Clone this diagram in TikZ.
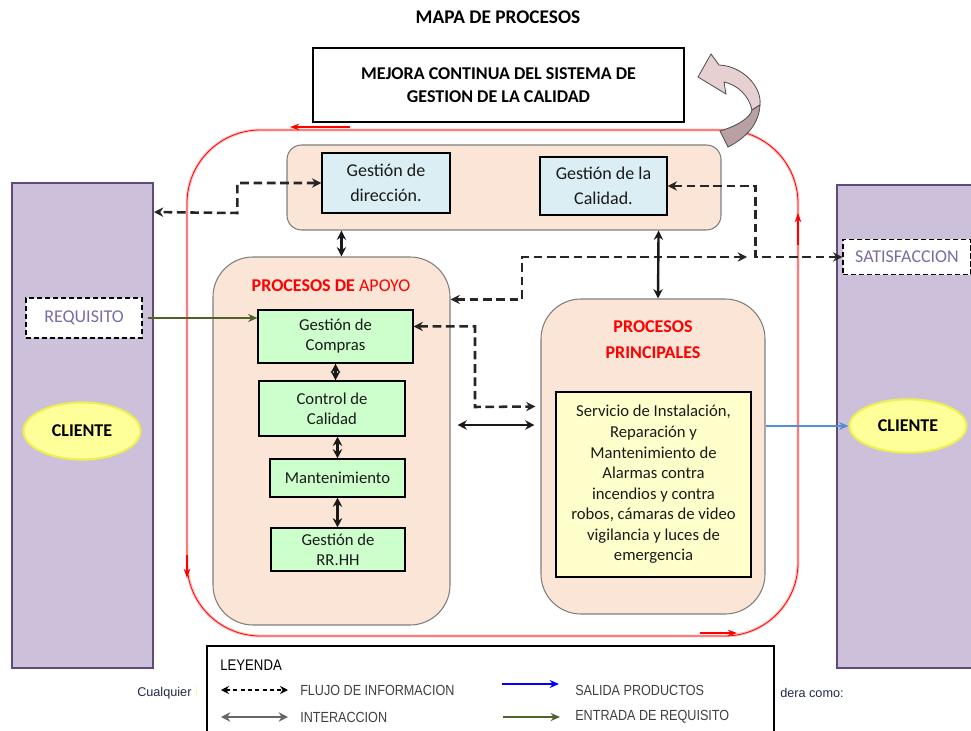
\documentclass[tikz,border=0pt]{standalone}
\usepackage{fontspec}
\setmainfont{Carlito}
\newfontfamily\narrowfont[FakeStretch=0.86]{Liberation Sans}
\newfontfamily\arialfont{Liberation Sans}
\usepackage{xcolor}
\usepackage{tikz}
\usetikzlibrary{positioning, arrows.meta, calc, shapes.geometric}
\definecolor{pPeach}{HTML}{FBE5D6}
\definecolor{pBorder}{HTML}{7F7F7F}
\definecolor{pBlue}{HTML}{DAEEF3}
\definecolor{pGreen}{HTML}{CCFFCC}
\definecolor{pYellow}{HTML}{FFFFCC}
\definecolor{cPurple}{HTML}{CCC0DA}
\definecolor{cPurpleLine}{HTML}{604A7B}
\definecolor{cEllipse}{HTML}{FFFF99}
\definecolor{cGlow}{HTML}{EEEE55}
\definecolor{cTag}{HTML}{7C6BA5}
\definecolor{aReq}{HTML}{4F6228}
\definecolor{aOut}{HTML}{558ED5}
\definecolor{aBlue}{HTML}{0000FF}
\definecolor{loopPink}{HTML}{FFC0C0}
\definecolor{mLight}{HTML}{E6D0D2}
\definecolor{mDark}{HTML}{B8A0A3}
\definecolor{nInk}{HTML}{1A1A1A}
\definecolor{nLeg}{HTML}{404040}
\definecolor{nNote}{HTML}{1F2A48}
\tikzset{
  container/.style={draw=pBorder, fill=pPeach, line width=0.8pt, inner sep=0pt},
  mejorabox/.style={draw=black, line width=0.9pt, minimum width=278.25pt, minimum height=55.5pt,
    align=center, font=\fontsize{13.5}{17.25}\selectfont\bfseries},
  bluebox/.style={draw=black, fill=pBlue, line width=1pt, inner sep=0pt, align=center,
    text=nInk, font=\fontsize{13.5}{19}\selectfont},
  greenbox/.style={draw=black, fill=pGreen, line width=0.8pt, inner sep=0pt, align=center,
    text=nInk, font=\fontsize{12.5}{15}\selectfont},
  yellowbox/.style={draw=black, fill=pYellow, line width=1pt, inner sep=0pt, align=center,
    text=nInk, font=\fontsize{12.5}{15.4}\selectfont},
  proctitle/.style={text=red, align=center, font=\fontsize{13.5}{19.5}\selectfont\bfseries},
  clientbar/.style={draw=cPurpleLine, fill=cPurple, line width=1.4pt, inner sep=0pt},
  cliente/.style={ellipse, draw=cGlow, fill=cEllipse, line width=1.6pt, inner sep=0pt,
    font=\fontsize{13.5}{16}\selectfont\bfseries},
  tagbox/.style={draw=black, dash pattern=on 4pt off 2pt, fill=white, line width=0.9pt,
    inner sep=0pt, text=cTag, font=\fontsize{13.5}{16}\selectfont},
  flujo/.style={{Stealth[length=7pt,width=7pt]}-{Stealth[length=7pt,width=7pt]},
    dash pattern=on 6.5pt off 3.5pt, line width=1.9pt, black!85},
  interaccion/.style={{Stealth[length=7pt,width=7pt]}-{Stealth[length=7pt,width=7pt]}, line width=1.8pt, black!90},
  entrada/.style={-{Stealth[length=7pt,width=6pt]}, aReq, line width=1.6pt},
  salida/.style={-{Stealth[length=7pt,width=6pt]}, aOut, line width=1.6pt},
  redloop/.style={draw=red, line width=0.6pt, rounded corners=55pt,
    preaction={draw=loopPink, line width=2.2pt}},
  looparrow/.style={-{Stealth[length=7pt,width=5pt]}, red, line width=0.9pt},
  legtext/.style={text=nLeg, font=\narrowfont\fontsize{11}{13}\selectfont, inner sep=0pt},
  notetext/.style={text=nNote, font=\arialfont\fontsize{9.5}{11}\selectfont, inner sep=0pt},
}
\begin{document}
\begin{tikzpicture}[x=0.75pt, y=-0.75pt, >=Stealth]
\useasboundingbox (0,0) rectangle (971,731);
\node[font=\fontsize{14.5}{17}\selectfont\bfseries] (titulo) at (498,17) {MAPA DE PROCESOS};
\node[mejorabox] (mejora) at (498.5,85) {MEJORA CONTINUA DEL SISTEMA DE\\GESTION DE LA CALIDAD};

\draw[redloop] (187,130) rectangle (798,636);
\draw[looparrow] (350,127) -- (290,127);
\draw[looparrow] (187,555) -- (187,578);
\draw[looparrow] (700,633) -- (737,633);
\draw[looparrow] (798,245) -- (798,213);

\filldraw[fill=mLight, draw=black!70, line width=0.6pt]
  (698,77) -- (711,54) -- (719,65) .. controls (742,66) and (762,86) .. (760,105)
  -- (752,110) .. controls (749,96) and (738,85) .. (724,82) -- (726,94) -- cycle;
\filldraw[fill=mDark, draw=black!70, line width=0.6pt]
  (760,105) .. controls (759,124) and (746,138) .. (728,147) -- (720,131)
  .. controls (737,126) and (750,118) .. (752,110) -- cycle;

\node[clientbar, minimum width=105.75pt, minimum height=363.75pt] (clientL) at (82.5,425.5) {};
\node[clientbar, minimum width=111pt, minimum height=362.25pt] (clientR) at (911,426.5) {};
\node[tagbox, minimum width=87pt, minimum height=30pt] (requisito) at (84,318) {REQUISITO};
\node[tagbox, minimum width=96pt, minimum height=26.5pt] (satisf) at (907,257) {SATISFACCION};
\node[cliente, minimum width=87.75pt, minimum height=42.75pt] (clienteL) at (82,431) {CLIENTE};
\node[cliente, minimum width=87.75pt, minimum height=40pt] (clienteR) at (908,426) {CLIENTE};

\node[container, rounded corners=11pt, minimum width=325.5pt, minimum height=63.75pt] (dirgrupo) at (504,187.5) {};
\node[bluebox, minimum width=96pt, minimum height=45pt] (direccion) at (386,183) {Gestión de\\dirección.};
\node[bluebox, minimum width=95.25pt, minimum height=43.5pt] (calidad) at (603.5,186) {Gestión de la\\Calidad.};

\node[container, rounded corners=30pt, minimum width=177.75pt, minimum height=276pt] (apoyo) at (331.5,441) {};
\node[proctitle] (apoyotit) at (331,286) {PROCESOS DE \mdseries APOYO};
\node[greenbox, minimum width=116.25pt, minimum height=39.75pt] (compras) at (335.5,336.5) {Gestión de\\Compras\vphantom{g}};
\node[greenbox, minimum width=109.5pt, minimum height=41.25pt] (control) at (332,408.5) {Control de\\Calidad};
\node[greenbox, minimum width=101.25pt, minimum height=28.5pt] (mant) at (337.5,478) {Mantenimiento};
\node[greenbox, minimum width=100.5pt, minimum height=32.25pt] (rrhh) at (338,549.5) {Gestión de\\RR.HH};

\node[container, rounded corners=30pt, minimum width=168pt, minimum height=236.25pt] (principales) at (653,456.5) {};
\node[proctitle] (principtit) at (653,340) {PROCESOS\\PRINCIPALES};
\node[yellowbox, minimum width=146.25pt, minimum height=138.75pt] (servicio) at (653.5,484.5)
  {Servicio de Instalación,\\Reparación y\\Mantenimiento de\\Alarmas contra\\incendios y contra\\robos, cámaras de video\\vigilancia y luces de\\emergencia};

\coordinate (flujofin) at (747,257);
\draw[flujo] (direccion.west) -- ++(-84,0) -- ++(0,30) -- ($(clientL.north east)+(0,30)$);
\draw[flujo] (calidad.east) -- ++(88,0) |- (satisf.west);
\draw[flujo] ($(apoyo.north east)+(0,43)$) -| (522,257) -- (flujofin);
\draw[flujo] ($(compras.north east)+(0,17)$) -| (475,407) -- ($(principales.north west)+(-5,108)$);
\draw[interaccion] ($(apoyo.east)+(7,-16)$) -- ($(principales.west)+(-6,-31.5)$);
\draw[interaccion] ($(dirgrupo.south west)+(55,0)$) -- ($(apoyo.north west)+(129,0)$);
\draw[interaccion] ($(dirgrupo.south east)+(-63,0)$) -- ($(principales.north)+(5,0)$);
\draw[interaccion] (compras.south) -- (compras.south |- control.north);
\draw[interaccion] (mant.north |- control.south) -- (mant.north);
\draw[interaccion] (mant.south) -- (mant.south |- rrhh.north);
\draw[entrada] ($(requisito.east)+(5,0)$) -- (requisito -| compras.west);
\draw[salida] (clienteR.west -| principales.east) -- (clienteR.west);

\node[notetext, anchor=west] (cualquier) at (137,693) {Cualquier \textcolor{yellow!45}{i}};
\node[notetext, anchor=west] (deracomo) at (780,693) {dera como:};
\node[draw=black, fill=white, line width=0.8pt, minimum width=425.25pt, minimum height=75pt, inner sep=0pt] (leyenda) at (490.5,696) {};
\node[legtext, text=black, font=\narrowfont\fontsize{11.5}{13}\selectfont, anchor=west] (lgtitulo) at (220,665) {LEYENDA};
\node[legtext, anchor=west] (lgflujo) at (300,690) {FLUJO DE INFORMACION};
\node[legtext, anchor=west] (lginter) at (300,717) {INTERACCION};
\node[legtext, anchor=west] (lgsalida) at (575,690) {SALIDA PRODUCTOS};
\node[legtext, anchor=west] (lgentrada) at (575,717) {ENTRADA DE REQUISITO};
\draw[{Stealth[length=6pt,width=6pt]}-{Stealth[length=6pt,width=6pt]}, dash pattern=on 3pt off 2.5pt, line width=0.9pt]
  ($(lgflujo.west)+(-79,0)$) -- ($(lgflujo.west)+(-12,0)$);
\draw[{Stealth[length=7pt,width=7pt]}-{Stealth[length=7pt,width=7pt]}, line width=2.2pt, black!60]
  ($(lginter.west)+(-79,0)$) -- ($(lginter.west)+(-12,0)$);
\draw[-{Stealth[length=7pt,width=6pt]}, aBlue, line width=1.3pt]
  ($(lgsalida.west)+(-73,-6)$) -- ($(lgsalida.west)+(-16,-6)$);
\draw[-{Stealth[length=7pt,width=6pt]}, aReq, line width=2.2pt]
  ($(lgentrada.west)+(-72,0)$) -- ($(lgentrada.west)+(-15,0)$);
\end{tikzpicture}
\end{document}
